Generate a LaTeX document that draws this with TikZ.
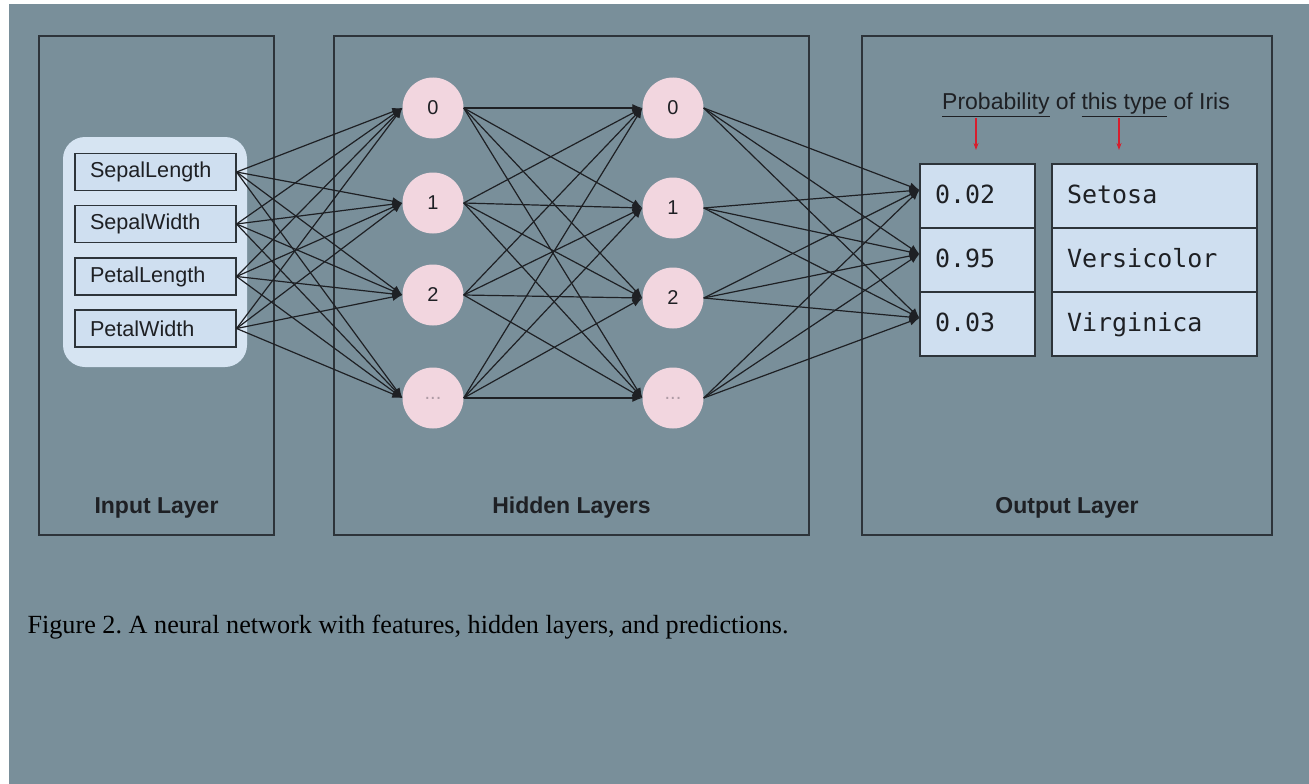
\documentclass[tikz,border=0pt]{standalone}
\usepackage{fontspec}
\setmainfont{Liberation Sans}
\newfontfamily\monofont{DejaVu Sans Mono}
\newfontfamily\capfont{Liberation Serif}
\usetikzlibrary{arrows.meta}
\frenchspacing
\definecolor{slate}{RGB}{121,143,154}
\definecolor{framecol}{RGB}{45,52,58}
\definecolor{panelblue}{RGB}{214,228,242}
\definecolor{cellblue}{RGB}{207,223,240}
\definecolor{neuronpink}{RGB}{242,214,223}
\definecolor{dotcol}{RGB}{175,155,165}
\definecolor{pointred}{RGB}{215,30,45}
\definecolor{inkcol}{RGB}{30,32,36}
\newcommand{\FL}{\fontsize{23}{28}\selectfont\bfseries}
\newcommand{\FF}{\fontsize{21.6}{25}\selectfont}
\newcommand{\FN}{\fontsize{20}{24}\selectfont}
\newcommand{\FM}{\monofont\fontsize{25}{30}\selectfont}
\newcommand{\FC}{\capfont\fontsize{26.2}{31}\selectfont}

\begin{document}
\begin{tikzpicture}[x=1pt,y=-1pt]
\tikzstyle{frame}=[draw=framecol,line width=1.5pt,inner sep=0pt,minimum height=499pt]
\tikzstyle{texto}=[draw=none,fill=none,text=inkcol,font=\FL]
\tikzstyle{panel}=[fill=panelblue,rounded corners=22pt,minimum width=184pt,minimum height=230pt]
\tikzstyle{feat}=[draw=framecol,line width=1.1pt,fill=cellblue,minimum height=37pt,text width=131pt,inner xsep=15pt,align=left,font=\FF,text=inkcol]
\tikzstyle{neuron}=[circle,fill=neuronpink,minimum size=61pt,inner sep=0pt,font=\FN,text=inkcol]
\tikzstyle{cell}=[draw=framecol,line width=1.1pt,fill=cellblue,minimum height=64pt,text height=18pt,text depth=4pt,inner xsep=15pt,align=left,font=\FM,text=inkcol]
\tikzstyle{link}=[inkcol,line width=1.2pt,-{Latex[length=10pt,width=8pt]}]
\tikzstyle{pointer}=[pointred,line width=1.1pt,-{Stealth[length=7pt,width=5pt]}]

\useasboundingbox (0,0) rectangle (1309,784);
\fill[white] (0,0) rectangle (1309,784);
\fill[slate] (9,4) rectangle (1309,784);

% the three layers
\node[frame,minimum width=235pt] (inframe) at (156.5,285.5) {};
\node[frame,minimum width=475pt] (hidframe) at (571.5,285.5) {};
\node[frame,minimum width=410pt] (outframe) at (1067,285.5) {};

\node[texto] (inlab) at (156.5,508) {Input Layer};
\node[texto] (hidlab) at (571.5,508) {Hidden Layers};
\node[texto] (outlab) at (1067,508) {Output Layer};

% features
\node[panel] (inpanel) at (155,252) {};
\foreach \n/\t/\y in {0/SepalLength/172,1/SepalWidth/224,2/PetalLength/276.5,3/PetalWidth/328.5}
  \node[feat] (f\n) at (155.5,\y) {\t};

% hidden neurons
\foreach \n/\t/\y in {0/0/108,1/1/203,2/2/295,3/{\color{dotcol}...}/398}
  \node[neuron] (a\n) at (433,\y) {\t};
\foreach \n/\t/\y in {0/0/108,1/1/208,2/2/298,3/{\color{dotcol}...}/398}
  \node[neuron] (b\n) at (673,\y) {\t};

% predictions
\foreach \n/\v/\s/\y in {1/0.02/Setosa/196,2/0.95/Versicolor/260,3/0.03/Virginica/324}{
  \node[cell,text width=85pt] (p\n) at (977.5,\y) {\v};
  \node[cell,text width=175pt] (s\n) at (1154.5,\y) {\s};
}

\foreach \i in {0,...,3}
  \foreach \j in {0,...,3}
    \draw[link] (f\i.east) -- (a\j.west);
\foreach \i in {0,...,3}
  \foreach \j in {0,...,3}
    \draw[link] (a\i.east) -- (b\j.west);
\foreach \i in {0,...,3}
  \foreach \j in {1,2,3}
    \draw[link] (b\i.east) -- ([yshift=6pt]p\j.west);

\node[anchor=base,font=\fontsize{23}{28}\selectfont,text=inkcol] (head) at (1086,110)
  {\underline{Probability} of \underline{this type} of Iris};
\coordinate (pa1) at (976,118);
\coordinate (pa2) at (976,150);
\coordinate (pb1) at (1119,118);
\coordinate (pb2) at (1119,150);
\draw[pointer] (pa1) -- (pa2);
\draw[pointer] (pb1) -- (pb2);

\node[anchor=base west,font=\FC,text=black] (caption) at (24,633)
  {Figure 2. A neural network with features, hidden layers, and predictions.};
\end{tikzpicture}
\end{document}
